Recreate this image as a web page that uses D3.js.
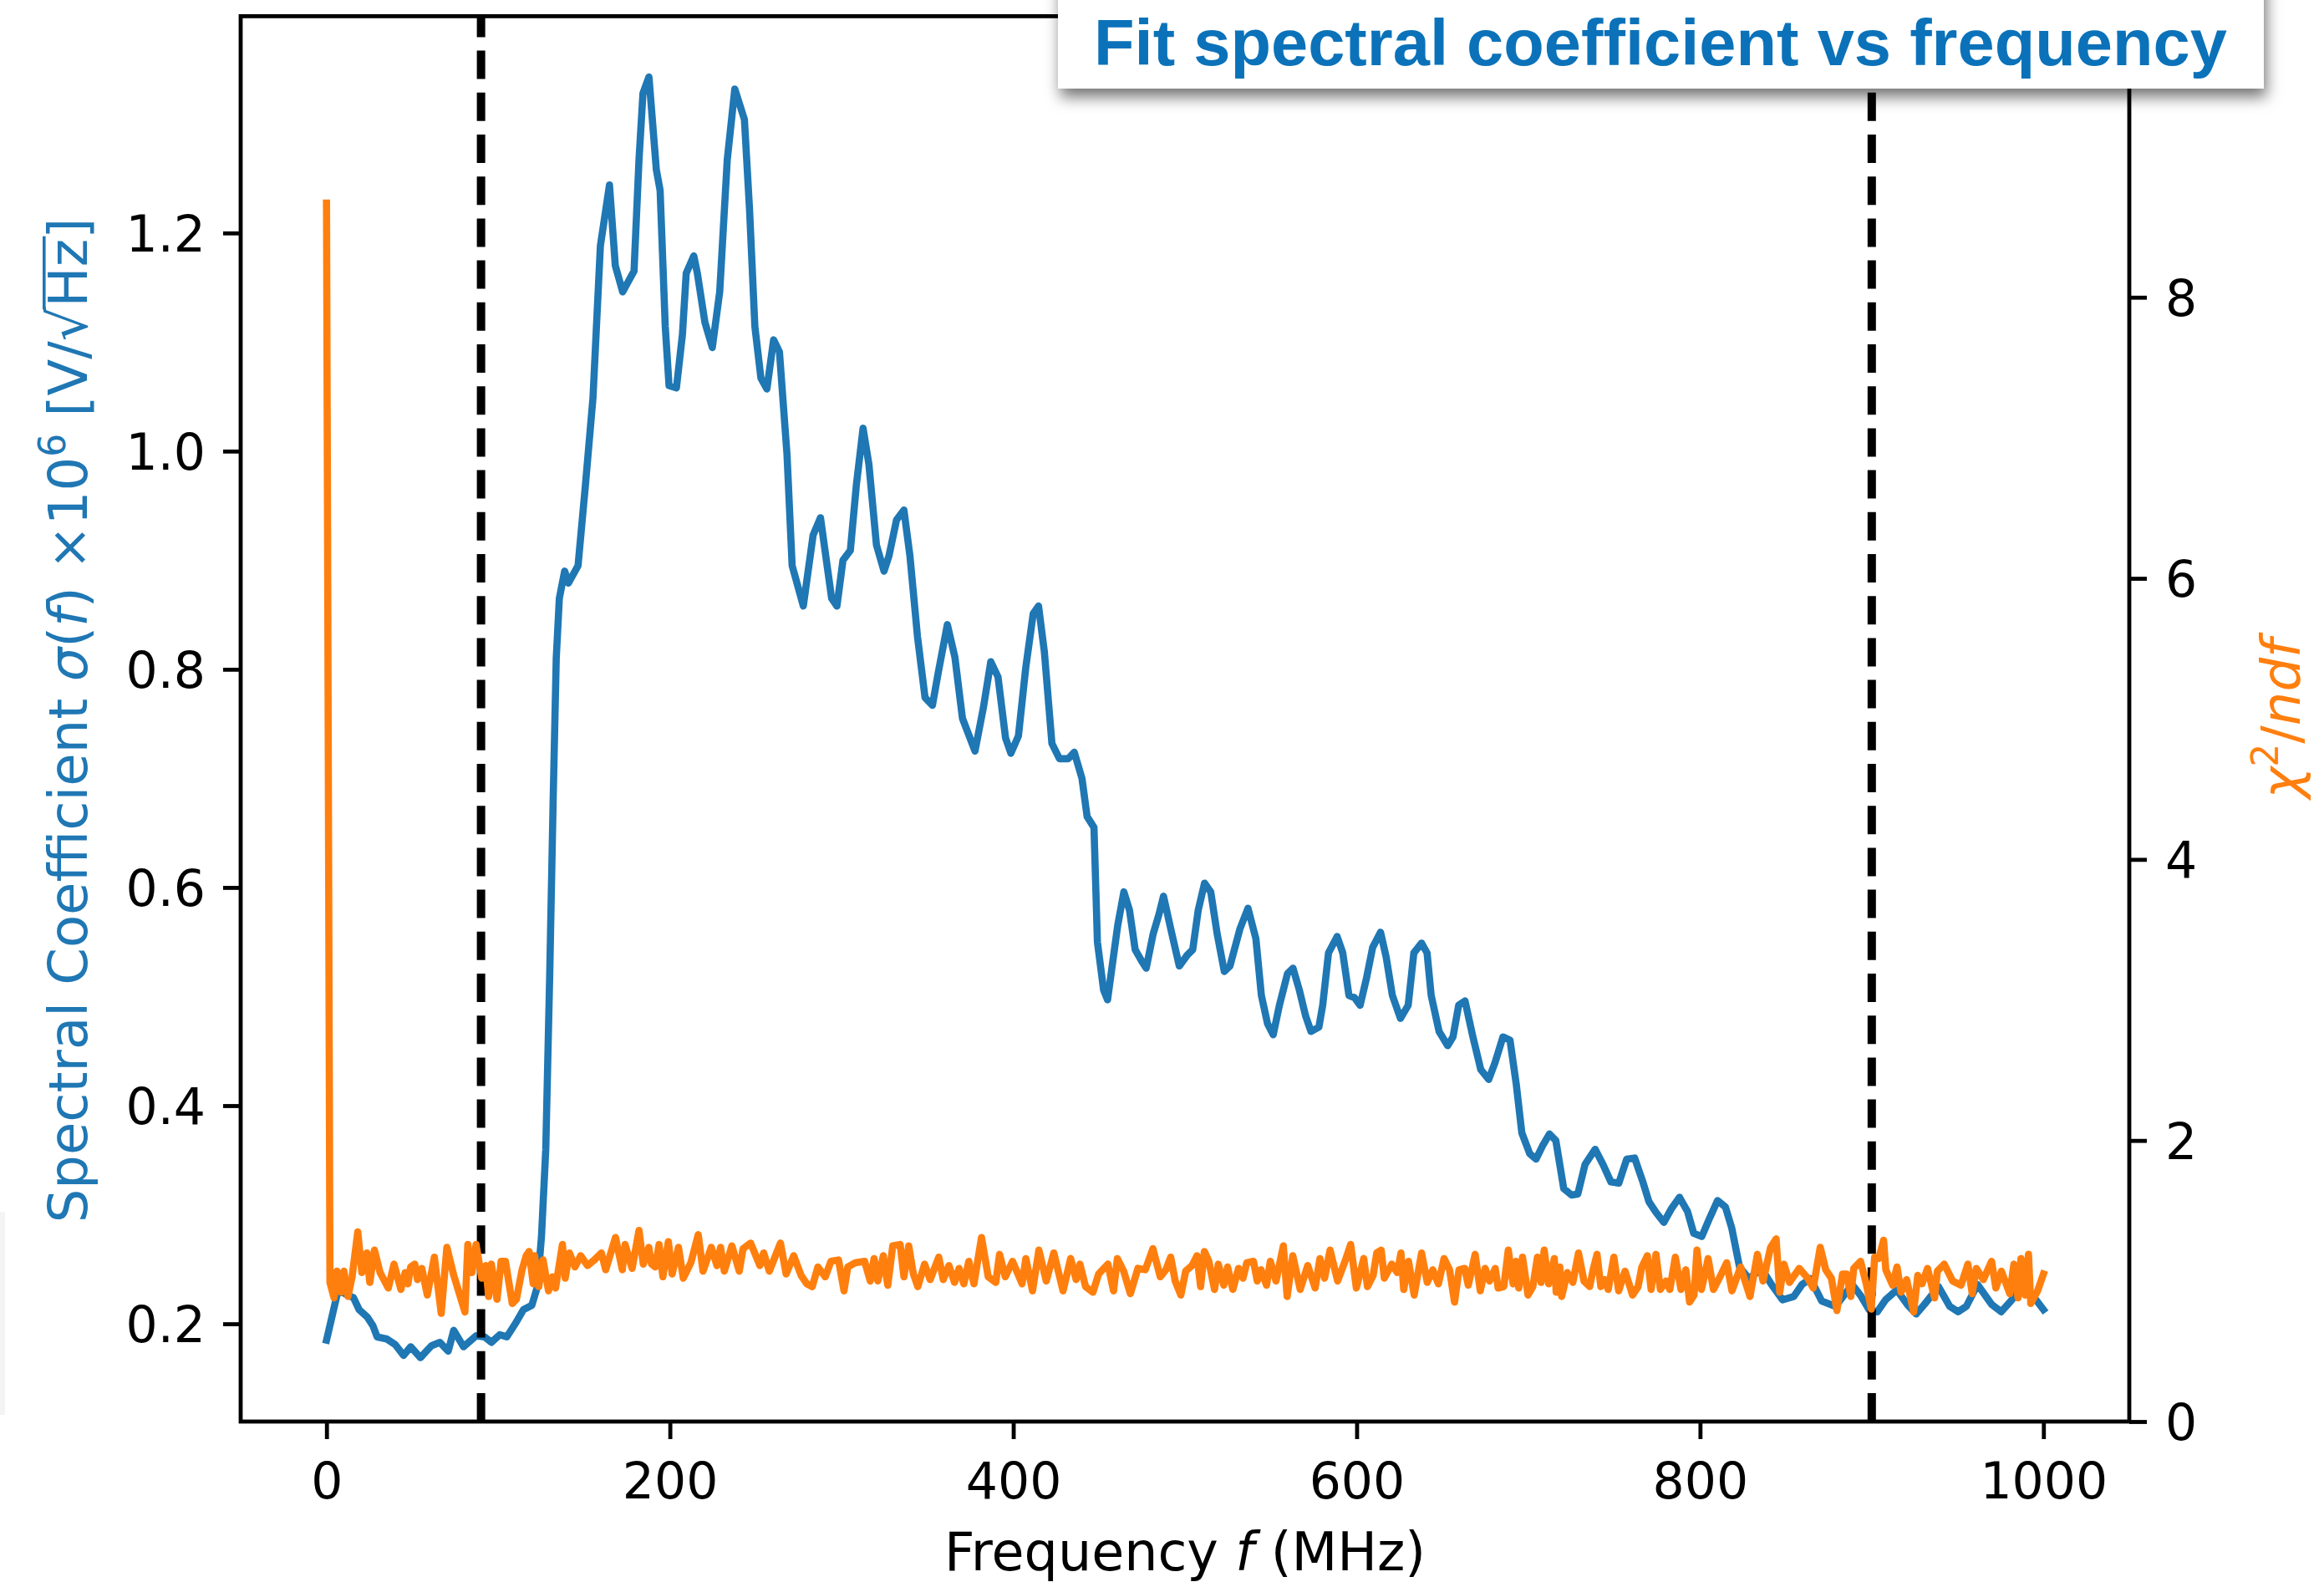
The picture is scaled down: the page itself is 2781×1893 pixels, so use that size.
<!DOCTYPE html>
<html><head><meta charset="utf-8">
<script src="https://cdn.jsdelivr.net/npm/d3@7"></script>
<style>html,body{margin:0;padding:0;background:#fff;} svg{display:block;}</style>
</head><body>
<svg id="chart" width="2781" height="1893"></svg>
<script>
// ---------------- data ----------------
const sigmaFreq = [0,6.8,12.5,15.7,19,23.8,27.1,29.5,35.2,40,44.9,49,54.7,61.2,66,70.9,74.1,79.8,87.1,92,96,100.9,105,109.9,114.7,119.6,122.8,125.2,127.7,130,132,133.8,135.6,138.7,140.9,146.5,150.8,155.2,159.5,164.8,168.2,172.5,175.6,179.1,182,184.3,187.8,192.1,194.3,197.3,199.5,203.8,207.3,209.5,213.9,216,220.4,224.7,229,233.4,237.8,243.4,246.4,249.5,253,256.5,260.4,263.8,268.2,271.2,277.7,283.4,287.7,292,294.2,297.3,300.8,305.1,308.6,312.5,315.9,320.3,324.7,327.6,332,336.3,339.8,344.2,348.6,352.9,356.3,361.6,366,370.4,373.8,377.7,382.6,386.9,391.1,395.5,398.6,403,407.3,411.6,414.7,418.1,422.5,426.9,432,435.5,440,443,447,449,452.6,454.9,460.8,464.4,467.7,471,474.6,477.4,481.4,484.8,487.5,492,496.7,501.3,504.5,507.7,511.4,515,518.8,522.9,526.2,532,536.7,541.3,544.5,548.1,551.4,555,559.7,562.9,566.6,570.3,573.4,578,580.2,583.6,588.6,591.9,595.5,598.7,602,605.6,609.3,613.9,617.2,620.8,625.5,630,633.3,637.8,641,643.4,648,653,656.1,659.4,663.1,667.7,672.3,676.9,680.5,685.2,689.3,693,696.2,700.8,704.5,708.2,712.3,716,720.6,725.2,728.8,733,738.9,743.5,748.1,752.7,757.3,761.9,766.5,770.2,774.4,778.9,783.5,788,792.7,796.3,801,805.6,810.2,814.8,818.5,823,828.5,835.9,841.6,848,854.6,859.4,864.3,870.8,878.9,888.6,893.5,898.4,903.2,908.1,914.6,921,925.9,930.8,938.9,945.4,950.3,955.1,961.6,969.7,975.4,981.1,986,992.5,1000];
const sigmaVal = [0.185,0.231,0.226,0.224,0.213,0.206,0.198,0.188,0.186,0.181,0.171,0.179,0.169,0.180,0.183,0.175,0.194,0.179,0.189,0.188,0.183,0.190,0.188,0.200,0.213,0.217,0.234,0.280,0.360,0.520,0.680,0.810,0.865,0.890,0.879,0.895,0.969,1.049,1.188,1.244,1.170,1.146,1.155,1.165,1.267,1.328,1.343,1.258,1.239,1.114,1.060,1.058,1.107,1.163,1.179,1.163,1.118,1.095,1.146,1.267,1.332,1.304,1.221,1.114,1.067,1.057,1.102,1.091,0.997,0.895,0.858,0.923,0.939,0.890,0.865,0.858,0.900,0.909,0.969,1.021,0.988,0.914,0.890,0.904,0.937,0.946,0.904,0.830,0.774,0.767,0.797,0.841,0.811,0.755,0.741,0.725,0.765,0.807,0.793,0.737,0.723,0.739,0.802,0.851,0.858,0.816,0.732,0.718,0.718,0.724,0.700,0.665,0.655,0.550,0.506,0.497,0.565,0.596,0.579,0.543,0.533,0.526,0.557,0.575,0.592,0.560,0.528,0.538,0.543,0.579,0.604,0.596,0.557,0.523,0.528,0.562,0.581,0.553,0.501,0.475,0.465,0.492,0.521,0.526,0.506,0.482,0.468,0.472,0.492,0.540,0.555,0.540,0.501,0.499,0.492,0.516,0.545,0.559,0.536,0.501,0.480,0.492,0.540,0.549,0.540,0.501,0.468,0.455,0.463,0.492,0.496,0.463,0.433,0.424,0.439,0.463,0.460,0.419,0.375,0.356,0.351,0.363,0.374,0.368,0.324,0.318,0.319,0.346,0.360,0.346,0.330,0.329,0.351,0.352,0.331,0.312,0.302,0.293,0.306,0.316,0.303,0.283,0.280,0.297,0.313,0.307,0.2875,0.252,0.2415,0.2505,0.236,0.222,0.225,0.236,0.2415,0.221,0.216,0.236,0.226,0.213,0.211,0.222,0.231,0.217,0.209,0.218,0.234,0.216,0.211,0.216,0.236,0.218,0.211,0.221,0.231,0.2285,0.213];

const chiFreq = [0,2,4.4,6,8.4,10.1,12.5,14.9,18.2,20.6,23.5,25.2,27.9,31.2,36,39.3,43.3,45.8,47.4,49,51.4,53,55.5,58.7,62.8,66.8,70.1,74.1,80.6,82.3,84.7,87.1,90.4,92.8,94.4,96,99.3,101.7,104.2,108.2,110.6,113.9,116.3,118,120.4,121.2,123.6,126.1,129.3,131.7,133.4,137.4,139,141.5,144.7,148,152,156,160.1,162.6,168.3,172.3,173.9,178,182,184.5,187.7,189.3,191.5,193.7,195.9,199.1,201.3,205,207.8,212.2,216.5,219.3,224.1,227.4,229.5,231.7,236.1,240.4,242.6,247,252.4,254.6,257.9,264.4,267.7,272.1,276.4,279.7,282.9,286.2,290.5,293.8,298.2,301.4,303.6,308,313.4,316.7,318.9,321.1,324.3,326.9,329.8,334.1,336.3,339.1,341.8,344.4,348.3,351.6,356.6,359.2,362.5,365.8,368.4,371.2,374.1,377.1,381.5,385.4,389.8,392,395.3,399.6,405.1,407.3,411.2,414.9,419.2,423.6,429,433.4,436.6,438.8,442.1,446.4,449.7,455.1,458.4,460.6,464.3,468.2,472.6,476.9,481.3,485.6,488.9,491.7,494.3,497.6,500.4,504.1,507,509.1,511.3,513.9,517.2,519.4,522.6,524.8,527.9,531.2,533.8,536,539.9,542.1,544.3,547.5,549.7,553,557.3,559.5,562.8,567.1,571.5,575.8,578.6,581.3,584.5,588.9,593.2,596.5,599.8,604.1,606.3,609.6,611.7,614.3,616.1,620.4,623.7,625.8,627.4,630.2,633.5,637.8,641.1,644.3,647.6,650.9,654.1,657,659.6,662.9,665,669,672,674.8,677.4,680.7,682.4,685.7,688.3,691.1,692.7,694.4,696.6,699.8,702.6,705.3,707.4,709.2,711.8,715.1,716.2,718.3,719.4,722.7,725.9,729.2,732.4,735.7,737.9,740,742.2,744.4,746.5,749.8,752.6,756.3,760.7,763.9,766.1,769.3,771.5,774.3,776.9,780.2,782.4,785.6,788.9,791.7,793.9,796.5,798.2,800.8,803,804.7,807.8,811.6,815.5,818.6,823.6,829.1,833.4,836.7,841.1,844.3,846.4,848.9,852.1,857.8,862.7,865.9,870,873.2,876.5,879.7,883,885.4,887.8,889.5,893.5,896.8,899.7,901.7,904.1,906.9,908.2,912.2,914.7,917.1,920.3,924.4,926.8,929.3,932.5,936.6,938.2,942.2,947.1,952,956,958.5,960.9,965,969.8,972.3,975.5,980.4,982.8,985.2,986.9,989.3,991.3,992.6,996.6,1000];
const chiVal = [8.67,0.99,0.88,1.07,0.92,1.07,0.89,1.03,1.35,1.06,1.20,0.99,1.22,1.06,0.95,1.12,0.94,1.06,0.98,1.10,1.12,1.01,1.09,0.90,1.17,0.77,1.24,1.04,0.78,1.26,1.06,1.26,1.02,1.11,0.89,1.12,0.87,1.14,1.14,0.84,0.87,1.08,1.18,1.21,0.98,1.18,0.96,1.15,0.93,1.03,0.95,1.26,1.02,1.20,1.10,1.18,1.11,1.15,1.20,1.08,1.31,1.08,1.26,1.09,1.36,1.12,1.24,1.12,1.10,1.26,1.03,1.28,1.05,1.24,1.02,1.13,1.33,1.07,1.24,1.11,1.24,1.07,1.25,1.07,1.23,1.27,1.11,1.20,1.07,1.27,1.05,1.18,1.04,0.98,0.96,1.10,1.03,1.14,1.15,0.93,1.10,1.13,1.14,1.00,1.16,1.00,1.18,0.97,1.25,1.26,1.03,1.25,1.05,0.96,1.12,1.01,1.17,1.01,1.11,0.99,1.09,0.98,1.14,0.98,1.31,1.03,0.99,1.19,1.03,1.14,0.98,1.16,0.93,1.22,1.00,1.20,0.93,1.16,1.01,1.12,0.96,0.92,1.05,1.12,0.93,1.16,1.07,0.91,1.09,1.08,1.23,1.03,1.08,1.17,1.00,0.90,1.07,1.11,1.18,0.96,1.21,1.14,0.94,1.12,0.97,1.10,0.94,1.09,1.02,1.13,1.14,1.00,1.08,0.97,1.14,1.00,1.25,0.89,1.18,0.94,1.11,0.95,1.16,1.02,1.22,1.00,1.14,1.26,0.95,1.16,0.96,1.04,1.20,1.22,1.02,1.12,1.06,1.20,0.94,1.14,0.90,1.20,0.99,1.08,0.98,1.16,1.08,0.85,1.08,1.09,0.97,1.19,0.93,1.09,1.00,1.09,0.95,0.96,1.22,0.98,1.14,0.95,1.17,0.90,0.96,1.17,0.99,1.22,0.98,1.16,0.92,1.10,0.89,1.06,0.99,1.20,1.00,0.96,1.09,1.19,0.96,1.01,0.94,1.17,0.93,1.07,0.90,0.96,1.10,1.18,0.94,1.19,0.94,1.00,0.94,1.17,0.94,1.08,0.85,0.90,1.22,0.94,1.06,1.16,0.94,1.03,1.13,0.93,1.10,0.89,1.19,1.00,1.24,1.30,0.92,1.12,0.99,1.09,1.02,0.95,1.24,1.08,1.02,0.79,1.05,1.05,0.89,1.09,1.14,0.98,0.80,1.17,1.16,1.29,1.08,0.97,1.10,0.92,1.01,0.78,1.04,0.98,1.09,0.88,1.07,1.12,1.00,0.97,1.12,0.91,1.09,1.01,1.14,0.95,1.07,0.91,1.12,0.88,1.16,0.90,1.19,0.84,0.93,1.05];

const xTicks = [0, 200, 400, 600, 800, 1000];
const yLeftTicks = [0.2, 0.4, 0.6, 0.8, 1.0, 1.2];
const yRightTicks = [0, 2, 4, 6, 8];
const cutFreqs = [90, 900];
const titleText = "Fit spectral coefficient vs frequency";

// ---------------- layout ----------------
const W = 2781, H = 1893;
const L = 288, R = 2548, T = 19.4, B = 1701;
const BLUE = "#1f77b4", ORANGE = "#ff7f0e";
const FONT = "DejaVu Sans";

const svg = d3.select("#chart");
svg.append("rect").attr("width", W).attr("height", H).attr("fill", "#fff");
// faint edge artefact at left border
svg.append("rect").attr("x", 0).attr("y", 1450).attr("width", 6).attr("height", 243).attr("fill", "#f4f4f4");

const x = d3.scaleLinear().domain([-50, 1050]).range([L, R]);
const yL = d3.scaleLinear().domain([0.1104, 1.3987]).range([B, T]);
const yR = d3.scaleLinear().domain([0, 10]).range([B, T]);

const sigmaData = sigmaFreq.map((f, i) => ({f, v: sigmaVal[i]}));
const chiData = chiFreq.map((f, i) => ({f, v: chiVal[i]}));

// blue series
svg.append("path").datum(sigmaData)
  .attr("d", d3.line().x(d => x(d.f)).y(d => yL(d.v)))
  .attr("fill", "none").attr("stroke", BLUE).attr("stroke-width", 8.6)
  .attr("stroke-linejoin", "round").attr("stroke-linecap", "square");

// dashed cut lines (drawn from bottom to top)
svg.selectAll("line.cut").data(cutFreqs).join("line").attr("class", "cut")
  .attr("x1", d => x(d)).attr("x2", d => x(d))
  .attr("y1", B).attr("y2", T)
  .attr("stroke", "#000").attr("stroke-width", 10)
  .attr("stroke-dasharray", "34 16.2");

// orange series
svg.append("path").datum(chiData)
  .attr("d", d3.line().x(d => x(d.f)).y(d => yR(d.v)))
  .attr("fill", "none").attr("stroke", ORANGE).attr("stroke-width", 8.6)
  .attr("stroke-linejoin", "round").attr("stroke-linecap", "square");

// axes
function styleAxis(g) {
  g.select(".domain").remove();
  g.selectAll(".tick line").attr("stroke", "#000").attr("stroke-width", 4.8);
  g.selectAll(".tick text").attr("font-family", FONT).attr("font-size", 60).attr("fill", "#000");
}
svg.append("g").attr("transform", `translate(0,${B})`)
  .call(d3.axisBottom(x).tickValues(xTicks).tickFormat(d3.format("d")).tickSize(21).tickPadding(28))
  .call(styleAxis);
svg.append("g").attr("transform", `translate(${L},0)`)
  .call(d3.axisLeft(yL).tickValues(yLeftTicks).tickFormat(d3.format(".1f")).tickSize(21).tickPadding(21))
  .call(styleAxis)
  .selectAll(".tick text").attr("dy", "0.36em");
svg.append("g").attr("transform", `translate(${R},0)`)
  .call(d3.axisRight(yR).tickValues(yRightTicks).tickFormat(d3.format("d")).tickSize(21).tickPadding(22))
  .call(styleAxis)
  .selectAll(".tick text").attr("dy", "0.36em");

// spines
svg.append("rect").attr("x", L).attr("y", T).attr("width", R - L).attr("height", B - T)
  .attr("fill", "none").attr("stroke", "#000").attr("stroke-width", 4.8);

// x label
const xl = svg.append("text").attr("x", (L + R) / 2).attr("y", 1879)
  .attr("text-anchor", "middle").attr("font-family", FONT).attr("font-size", 63.5).attr("fill", "#000");
xl.append("tspan").text("Frequency ");
xl.append("tspan").attr("font-style", "italic").text("f");
xl.append("tspan").text(" (MHz)");

// left y label
const ylg = svg.append("g").attr("transform", "translate(104,862) rotate(-90)");
const ylt = ylg.append("text").attr("text-anchor", "middle").attr("font-family", FONT)
  .attr("font-size", 64).attr("fill", BLUE);
ylt.append("tspan").text("Spectral Coefficient ");
ylt.append("tspan").attr("font-style", "italic").text("σ");
ylt.append("tspan").text("(");
ylt.append("tspan").attr("font-style", "italic").text("f");
ylt.append("tspan").text(") ×10");
ylt.append("tspan").attr("font-size", 44).attr("dy", -26).text("6");
ylt.append("tspan").attr("dy", 26).text(" [V/√");
ylt.append("tspan").text("Hz");
ylt.append("tspan").text("]");
{
  const node = ylt.node();
  const s = node.textContent;
  const iSq = s.indexOf("√"), iZ = s.indexOf("Hz") + 1;
  const x0 = node.getEndPositionOfChar(iSq).x - 3;
  const x1 = node.getEndPositionOfChar(iZ).x + 3;
  ylg.append("line").attr("x1", x0).attr("x2", x1).attr("y1", -0.8 * 64).attr("y2", -0.8 * 64)
    .attr("stroke", BLUE).attr("stroke-width", 3.6);
}

// right y label
const yrg = svg.append("g").attr("transform", "translate(2752,860) rotate(-90)");
const yrt = yrg.append("text").attr("text-anchor", "middle").attr("font-family", FONT)
  .attr("font-size", 64).attr("fill", ORANGE);
yrt.append("tspan").attr("font-style", "italic").text("χ");
yrt.append("tspan").attr("font-size", 44).attr("dy", -26).text("2");
yrt.append("tspan").attr("dy", 26).text("/");
yrt.append("tspan").attr("font-style", "italic").text("ndf");

// title box with shadow
const defs = svg.append("defs");
const flt = defs.append("filter").attr("id", "shadow").attr("x", "-10%").attr("y", "-50%").attr("width", "120%").attr("height", "200%");
flt.append("feDropShadow").attr("dx", 3).attr("dy", 10).attr("stdDeviation", 9)
  .attr("flood-color", "#000").attr("flood-opacity", 0.55);
svg.append("rect").attr("x", 1266).attr("y", -30).attr("width", 1443).attr("height", 136)
  .attr("fill", "#fff").attr("filter", "url(#shadow)");
svg.append("text").attr("x", 1309).attr("y", 78)
  .attr("font-family", "'Liberation Sans Narrow', 'Arial Narrow', 'Liberation Sans', sans-serif")
  .attr("font-weight", "bold").attr("font-size", 78).attr("fill", "#0b72b9")
  .attr("textLength", 1356).attr("lengthAdjust", "spacingAndGlyphs")
  .text(titleText);
</script>
</body></html>
